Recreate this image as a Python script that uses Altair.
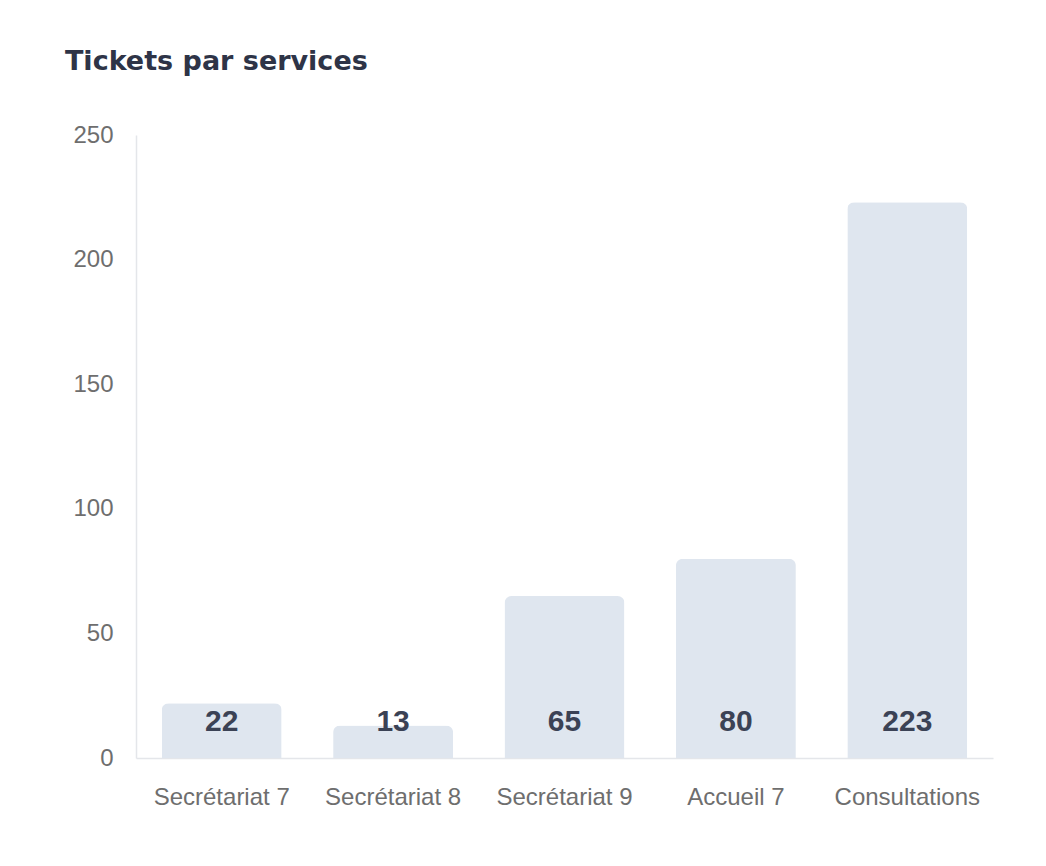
import altair as alt
import pandas as pd

services = ["Secrétariat 7", "Secrétariat 8", "Secrétariat 9", "Accueil 7", "Consultations"]
tickets = [22, 13, 65, 80, 223]
y_ticks = [0, 50, 100, 150, 200, 250]

df = pd.DataFrame({"service": services, "tickets": tickets})

x_enc = alt.X("service:N", sort=services, title=None,
              scale=alt.Scale(paddingInner=0.3, paddingOuter=0.15),
              axis=alt.Axis(labelAngle=0, labelFont="Liberation Sans", labelFontSize=24,
                            labelColor="#6e6e6e", labelPadding=27, ticks=False,
                            domainColor="#e4e6ea", domainWidth=1.5))

bars = alt.Chart(df).mark_bar(color="#dfe6ef", cornerRadiusTopLeft=7, cornerRadiusTopRight=7).encode(
    x=x_enc,
    y=alt.Y("tickets:Q", title=None, scale=alt.Scale(domain=[0, 250], nice=False),
            axis=alt.Axis(values=y_ticks, grid=False, ticks=False, labelFont="Liberation Sans",
                          labelFontSize=24, labelColor="#6e6e6e", labelPadding=23,
                          domainColor="#e4e6ea", domainWidth=1.5)),
)

labels = alt.Chart(df).mark_text(font="Liberation Sans", fontSize=30, fontWeight="bold",
                                 color="#3b4255", baseline="middle", dy=-36).encode(
    x=alt.X("service:N", sort=services),
    y=alt.datum(0),
    text="tickets:Q",
)

chart = alt.layer(bars, labels).properties(
    width=857, height=623,
    title=alt.TitleParams("Tickets par services", anchor="start", dx=-8, dy=-43,
                          font="DejaVu Sans", fontSize=27, fontWeight="bold", color="#2e3447"),
    autosize=alt.AutoSizeParams(type="none"),
    padding={"left": 128, "top": 127, "right": 45, "bottom": 90},
).configure(background="white").configure_view(stroke=None, strokeWidth=0)

chart.save("out.html", embed_options={"renderer": "svg", "actions": False})
